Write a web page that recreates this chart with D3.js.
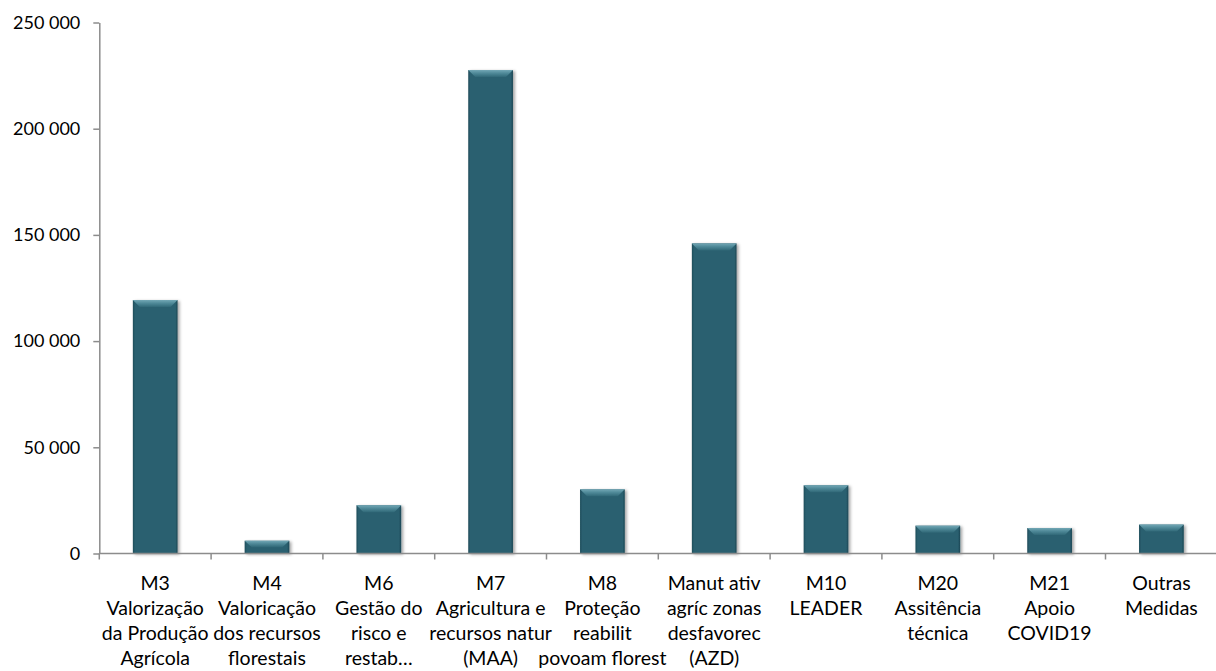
<!DOCTYPE html>
<html lang="pt">
<head>
<meta charset="utf-8">
<title>Despesa por medida</title>
<script src="https://cdn.jsdelivr.net/npm/d3@7"></script>
<style>
  html, body { margin: 0; padding: 0; background: #ffffff; }
  svg { display: block; }
  text { font-family: Lato, "Open Sans", "Liberation Sans", sans-serif; fill: #000; }
</style>
</head>
<body>
<svg id="chart" width="1216" height="671"></svg>
<script>
// Categories (one entry per measure) and the wrapped label lines drawn under each bar
const categories = ["M3", "M4", "M6", "M7", "M8", "AZD", "M10", "M20", "M21", "Outras"];
const categoryLabels = [
  ["M3", "Valorização", "da Produção", "Agrícola"],
  ["M4", "Valoricação", "dos recursos", "florestais"],
  ["M6", "Gestão do", "risco e", "restab…"],
  ["M7", "Agricultura e", "recursos natur", "(MAA)"],
  ["M8", "Proteção", "reabilit", "povoam florest"],
  ["Manut ativ", "agríc zonas", "desfavorec", "(AZD)"],
  ["M10", "LEADER"],
  ["M20", "Assitência", "técnica"],
  ["M21", "Apoio", "COVID19"],
  ["Outras", "Medidas"]
];
const values = [119300, 6000, 22700, 227600, 30200, 146000, 32100, 13100, 12000, 13600];
const yTicks = [0, 50000, 100000, 150000, 200000, 250000];

const svg = d3.select("#chart");
const plotLeft = 99.3, plotRight = 1217.3, plotTop = 22.5, plotBottom = 553.5;

const y = d3.scaleLinear().domain([0, 250000]).range([plotBottom, plotTop]);
const xCat = d3.scaleBand().domain(categories).range([plotLeft, plotRight]).padding(0);
const xBar = d3.scaleBand().domain(categories).range([plotLeft, plotRight])
  .paddingInner(0.6).paddingOuter(0.3);

const fmt = v => d3.format(",")(v).replace(/,/g, " ");

// Shading definitions for the bevelled bars
const defs = svg.append("defs");
const shadow = defs.append("filter").attr("id", "barShadow")
  .attr("x", "-20%").attr("y", "-10%").attr("width", "150%").attr("height", "130%");
shadow.append("feDropShadow").attr("dx", 2).attr("dy", 1).attr("stdDeviation", 1.6)
  .attr("flood-color", "#000").attr("flood-opacity", 0.35);

const sideGrad = defs.append("linearGradient").attr("id", "sideGrad")
  .attr("x1", 0).attr("x2", 1).attr("y1", 0).attr("y2", 0);
sideGrad.append("stop").attr("offset", "0%").attr("stop-color", "#1d4c5a");
sideGrad.append("stop").attr("offset", "5%").attr("stop-color", "#2b6070");
sideGrad.append("stop").attr("offset", "95%").attr("stop-color", "#2b6070");
sideGrad.append("stop").attr("offset", "100%").attr("stop-color", "#1b4654");

const topGrad = defs.append("linearGradient").attr("id", "topGrad")
  .attr("x1", 0).attr("x2", 0).attr("y1", 0).attr("y2", 1);
topGrad.append("stop").attr("offset", "0%").attr("stop-color", "#72a7b5");
topGrad.append("stop").attr("offset", "45%").attr("stop-color", "#4f8998");
topGrad.append("stop").attr("offset", "100%").attr("stop-color", "#306877");

// Y axis
const yAxis = d3.axisLeft(y).tickValues(yTicks).tickFormat(fmt)
  .tickSize(6).tickPadding(13).tickSizeOuter(0);
const gy = svg.append("g").attr("transform", `translate(${plotLeft},0)`).call(yAxis);
gy.select(".domain").attr("stroke", "#8c8c8c").attr("stroke-width", 1.5);
gy.selectAll(".tick line").attr("stroke", "#8c8c8c").attr("stroke-width", 1.5);
gy.selectAll(".tick text").attr("font-size", 18).attr("fill", "#000")
  .attr("font-family", "Lato, 'Open Sans', sans-serif");

// Bars
const bars = svg.append("g").selectAll("g.bar")
  .data(categories.map((c, i) => ({ c, v: values[i] })))
  .join("g").attr("class", "bar");

bars.append("rect")
  .attr("x", d => xBar(d.c))
  .attr("y", d => y(d.v))
  .attr("width", xBar.bandwidth())
  .attr("height", d => y(0) - y(d.v))
  .attr("fill", "url(#sideGrad)")
  .attr("filter", "url(#barShadow)");

// Bevelled top edge of each bar
bars.append("path")
  .attr("fill", "url(#topGrad)")
  .attr("d", d => {
    const x0 = xBar(d.c), x1 = x0 + xBar.bandwidth(), yt = y(d.v);
    const h = Math.min(7, (y(0) - yt) / 2), inset = 7;
    return `M${x0},${yt}L${x1},${yt}L${x1 - inset},${yt + h}L${x0 + inset},${yt + h}Z`;
  });

// X axis line and category separators
const xAxisG = svg.append("g");
xAxisG.append("line")
  .attr("x1", plotLeft).attr("x2", plotRight).attr("y1", y(0)).attr("y2", y(0))
  .attr("stroke", "#8c8c8c").attr("stroke-width", 1.5);
xAxisG.selectAll("line.sep")
  .data(categories)
  .join("line").attr("class", "sep")
  .attr("x1", d => xCat(d)).attr("x2", d => xCat(d))
  .attr("y1", y(0)).attr("y2", y(0) + 6)
  .attr("stroke", "#8c8c8c").attr("stroke-width", 1.5);

// Category labels
const lineH = 25;
xAxisG.selectAll("text.cat")
  .data(categories.map((c, i) => ({ c, lines: categoryLabels[i] })))
  .join("text").attr("class", "cat")
  .attr("text-anchor", "middle")
  .attr("font-size", 19.5)
  .each(function (d) {
    const t = d3.select(this);
    d.lines.forEach((ln, k) => {
      t.append("tspan")
        .attr("x", xCat(d.c) + xCat.bandwidth() / 2)
        .attr("y", y(0) + 36.5 + k * lineH)
        .text(ln);
    });
  });
</script>
</body>
</html>
